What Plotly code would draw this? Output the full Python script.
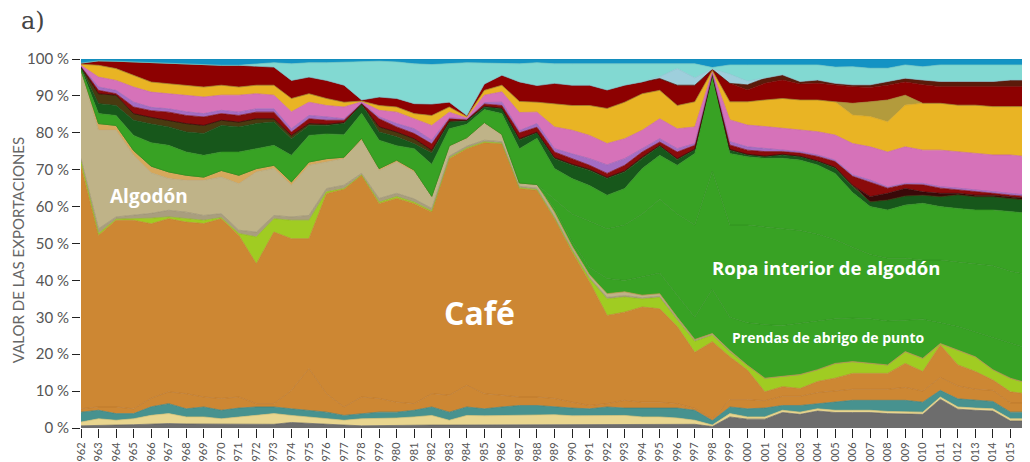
import plotly.graph_objects as go

years = list(range(1962, 2017))

# shares of export value (%), bottom to top of the stack
gris = [0.6,0.8,0.8,0.9,1.0,1.2,1.1,1.1,1.0,1.2,
        1.0,1.0,1.5,1.2,1.0,0.8,0.6,0.7,0.7,0.7,
        0.8,0.8,0.8,0.8,0.9,0.9,0.9,1.0,1.0,1.0,
        1.0,1.0,1.0,1.0,1.0,1.0,0.4,3.0,2.4,2.4,
        4.2,3.7,4.6,4.2,4.2,4.2,3.9,3.7,3.7,7.8,
        5.1,4.8,4.6,1.9,1.9]
caqui = [1.0,1.7,1.3,1.6,2.4,2.7,1.9,1.9,1.5,1.8,
         2.4,2.9,1.9,1.8,1.5,1.3,1.9,1.8,2.0,2.3,
         2.6,1.3,2.6,2.5,2.5,2.5,2.5,2.6,2.3,2.3,
         2.4,2.4,2.0,2.0,1.7,1.1,0.4,0.9,0.6,0.6,
         0.6,0.6,0.6,0.6,0.6,0.6,0.6,0.6,0.6,0.6,
         0.6,0.6,0.6,0.6,0.6]
turquesa = [2.7,2.3,1.8,1.4,2.3,2.7,2.2,2.7,2.3,2.4,
            2.3,1.8,1.8,1.8,1.8,1.3,1.4,1.8,1.6,1.8,
            2.3,2.2,2.3,1.9,2.3,2.7,2.7,2.1,2.1,1.9,
            2.3,2.0,2.4,2.2,2.7,2.7,1.2,1.8,2.2,2.4,
            1.3,1.8,1.4,2.2,2.7,2.7,3.0,3.2,2.7,1.8,
            2.2,2.1,2.0,1.8,1.8]
azucar = [0.9,0.9,1.8,1.3,2.3,3.2,4.1,2.7,3.2,3.0,
          0.9,0.9,5.0,11.3,5.0,2.3,4.5,3.7,2.7,1.8,
          3.6,4.6,5.9,4.1,3.2,2.3,2.3,2.3,1.6,0.9,
          0.9,2.1,1.6,1.8,1.2,0.5,0.5,2.0,2.5,2.0,
          2.5,2.5,3.0,3.0,3.0,3.0,3.0,3.5,3.0,3.5,
          3.5,3.0,3.0,2.5,2.5]
cafe = [65.8,46.5,50.6,51.1,46.9,46.9,46.5,47.0,48.7,43.8,
        37.9,46.5,41.1,35.2,54.2,59.0,60.1,52.8,55.2,54.2,
        49.2,64.1,64.1,68.0,68.1,56.5,56.0,48.7,40.7,33.5,
        23.9,23.9,25.8,25.3,20.9,15.2,20.9,11.6,8.0,2.4,
        2.6,2.1,3.0,3.5,4.3,4.3,4.3,6.5,5.3,8.8,
        5.7,4.8,2.8,3.0,2.4]
lima = [1.5,0.5,0.3,0.4,1.5,0.5,0.9,0.9,0.3,0.5,
        7.3,3.6,5.0,5.0,0.5,0.2,0.1,0.4,0.5,0.4,
        0.3,0.2,0.2,0.2,0.2,0.2,0.2,0.3,0.5,0.9,
        4.5,4.1,2.2,3.1,1.8,3.0,1.8,1.4,1.3,3.7,
        2.8,3.8,3.2,4.0,3.2,2.7,2.3,3.2,3.6,0.4,
        4.0,4.0,2.8,3.7,2.9]
beige_osc = [0.5,1.3,0.6,0.9,1.3,1.8,1.8,1.3,1.1,0.9,
             1.3,0.9,0.9,1.3,0.9,0.9,0.4,1.0,0.9,0.9,
             0.7,0.5,0.5,0.5,0.4,0.4,0.4,0.3,0.3,0.3,
             0.4,0.4,0.3,0.3,0.3,0.3,0.2,0,0,0,
             0,0,0,0,0,0,0,0,0,0,
             0,0,0,0,0]
algodon = [23.5,26.7,23.5,16.3,10.9,8.6,8.6,9.5,9.9,12.6,
           16.3,12.7,8.6,13.6,7.2,7.2,9.0,7.6,8.5,7.3,
           3.0,2.5,2.0,4.5,1.7,0.7,0.8,1.0,0.6,0.6,
           1.0,1.0,0.7,0.7,0.4,0.2,0.2,0.3,0,0,
           0,0,0,0,0,0,0,0,0,0,
           0,0,0,0,0]
ocre = [0.5,1.8,1.3,1.3,1.8,1.8,1.4,0.9,1.8,2.3,
        0.9,0.9,0.9,0.9,0.9,0.4,0.5,0.5,0.5,0.5,
        0.3,0.3,0.3,0.3,0.3,0.2,0.2,0.2,0.2,0.1,
        0,0,0,0,0,0,0,0,0,0,
        0,0,0,0,0,0,0,0,0,0,
        0,0,0,0,0]
prendas_abrigo = [0]*27 + [1.0,1.2,2.0,
                  4.1,3.1,5.0,5.6,6.0,6.0,12.0,9.0,11.5,14.5,
                  13.8,14.0,13.2,12.1,11.8,12.1,11.9,8.5,10.6,5.6,
                  6.4,6.7,8.7,9.5,9.4]
ropa_interior = [0]*27 + [2.5,7.5,12.5,
                 13.5,15.0,17.0,20.0,22.0,25.0,32.0,25.0,26.5,26.5,
                 26.2,25.0,23.5,21.4,19.2,17.4,17.0,16.8,16.0,17.0,
                 17.5,18.5,19.5,19.5,20.0]
otros_verdes = [0.4,2.7,2.7,4.1,6.3,7.2,6.3,5.9,5.0,6.3,
                5.4,5.4,7.2,7.2,6.7,6.1,6.8,7.7,3.9,5.8,
                8.7,4.6,3.6,3.5,5.6,9.3,12.5,8.3,9.6,9.7,
                9.1,9.9,12.3,11.9,13.2,19.4,26.0,19.4,18.5,18.6,
                19.1,19.1,18.8,18.0,14.8,13.0,13.1,14.4,15.4,14.5,
                14.5,14.6,15.1,16.1,16.7]
verde_osc = [0.3,2.7,2.7,4.1,5.0,5.0,5.4,5.9,7.2,6.8,
             6.8,6.3,4.5,2.7,2.3,3.0,2.5,2.2,2.4,1.3,
             3.0,1.8,0.9,0.7,1.3,2.3,1.5,2.7,3.6,4.1,
             4.5,4.5,2.7,2.5,1.5,1.0,0.2,0.9,0.5,0.4,
             0.9,0.9,0.9,1.4,1.6,1.3,2.7,2.5,2.2,2.7,
             3.7,3.6,3.6,3.6,3.6]
marron = [0.2,2.7,2.8,1.8,1.8,1.8,2.3,2.2,1.4,1.3,
          1.3,0.9,0.9,0.5,0.3,0.3,0.1,1.4,1.3,1.4,
          0.8,0.3,0.2,0.2,0.2,0.4,0.2,0.3,0.3,0.3,
          0.3,0.3,0.4,0.2,0.3,0.2,0.1,0.2,0.2,0.2,
          0.2,0.2,0.2,0.3,0.4,0,0,0,0,0,
          0,0,0,0,0]
granate_osc = [0]*45 + [1.4,1.8,2.0,0.9,0.9,0.4,0.4,0.4,0.4,0.4]
rojo1 = [0.1,0.9,0.4,1.8,1.8,2.2,2.2,2.3,1.8,1.8,
         1.8,1.8,0.9,1.3,1.1,0.6,0.1,2.2,1.4,1.4,
         1.7,0.6,0.2,0.6,0.7,1.6,1.3,1.5,1.5,1.1,
         1.1,1.5,1.4,0.9,1.8,1.0,0.2,1.2,1.1,1.2,
         0.7,0.8,1.2,1.5,2.4,4.0,1.4,1.1,1.9,1.4,
         1.0,1.0,0.5,0.5,0.5]
morado = [0.1,0.9,0.9,1.3,0.9,0.9,1.0,0.9,0.9,0.9,
          0.9,0.9,0.9,0.9,0.9,0.4,0.1,0.5,0.9,1.3,
          1.0,0.3,0.1,0.4,0.9,0.6,1.0,0.9,1.3,1.8,
          2.3,1.8,0.9,0.9,0.9,0.5,0.1,0.9,0.9,0.9,
          0.4,0.4,0.4,0.4,0.4,0.5,0.3,0.3,0.4,0.4,
          0.4,0.4,0.4,0.4,0.4]
rosa = [0.2,2.7,2.7,4.1,4.1,4.1,4.5,4.5,4.1,4.6,
        4.1,3.7,4.6,3.6,3.1,3.2,0.3,1.8,3.1,2.7,
        4.0,1.5,0.3,2.0,2.8,4.9,3.1,5.9,6.4,6.3,
        5.8,5.4,5.0,5.4,5.4,4.5,0.3,5.9,5.9,5.9,
        5.9,5.9,6.3,6.8,8.5,9.0,9.5,9.9,9.0,9.9,
        9.9,9.9,10.0,10.5,10.4]
oro = [0.3,3.2,3.2,3.2,2.7,2.7,2.7,2.7,2.7,2.2,
       2.3,2.7,3.6,2.3,1.9,1.3,0.2,1.3,1.4,1.4,
       2.7,1.4,0.4,1.3,1.8,3.0,2.7,6.3,6.7,8.1,
       9.5,9.9,9.9,7.7,6.3,6.8,0.4,4.9,6.3,7.2,
       8.1,8.1,8.6,9.0,7.7,8.2,8.2,11.3,12.7,12.7,
       12.6,13.1,13.1,13.1,13.6]
oliva = [0]*44 + [3.2,4.0,5.9,2.7,0,0,0,0,0,0,0]
rojo2 = [0.3,1.2,2.0,3.6,5.2,5.4,5.8,6.1,5.4,5.9,
         5.2,4.9,4.9,4.5,4.9,4.6,0.3,2.3,2.3,2.7,
         3.1,1.3,0.3,1.7,2.7,5.3,4.5,5.5,5.5,5.5,
         5.0,4.6,3.2,3.2,5.5,4.5,0.3,5.0,3.2,4.5,
         5.0,4.3,4.5,4.5,4.5,3.9,4.0,3.6,5.0,4.5,
         5.0,5.0,5.4,5.4,5.4]
granate = [0]*38 + [1.4,1.4,1.4,0.7,0.9,0.5,0.5,0.7,1.0,1.0,
                    1.3,1.4,1.4,1.4,1.4,1.8,1.8]
celeste = [0]*33 + [0.5,4.5,2.0,0.1,2.5,1.0] + [0]*16
cian = [0,0,0,0,0,0,0,0,0,0,
        0.5,1.2,4.5,3.9,4.8,6.3,10.3,9.7,9.9,10.8,
        10.7,10.4,14.3,5.7,3.1,4.9,6.2,5.3,5.8,5.8,
        7.1,5.8,4.9,3.5,1.3,3.8,0.4,2.5,4.4,3.6,
        2.7,4.5,4.1,4.4,4.9,4.5,3.6,3.6,3.6,4.5,
        4.5,4.5,4.5,4.1,4.1]
azul = [1.1,0.5,0.6,0.8,1.0,1.3,1.3,1.5,1.7,1.7,
        1.4,1.0,1.3,1.0,1.0,0.8,0.8,0.6,0.8,1.3,
        1.5,1.3,1.0,1.1,1.3,1.3,1.0,1.3,1.3,1.3,
        1.3,1.3,1.3,1.3,1.3,1.3,2.3,1.6,1.6,1.6,
        1.6,1.6,1.6,2.2,2.1,2.5,2.5,1.6,2.1,1.6,
        1.6,1.6,1.6,1.6,1.6]

y_ticks = list(range(0, 101, 10))
y_labels = [f"{v} %" for v in y_ticks]

layers = [
    ("Otros", gris, "#6d6d6d", "#5e5e5e"),
    ("Caqui", caqui, "#e9d68f", "#d8c270"),
    ("Turquesa", turquesa, "#47928f", "#3c807d"),
    ("Azúcar", azucar, "#cd8733", "#b8742a"),
    ("Café", cafe, "#cd8733", "#c07c2e"),
    ("Prendas varias", lima, "#a0cc22", "#8db81a"),
    ("Semillas", beige_osc, "#a99e7e", "#9a8f70"),
    ("Algodón", algodon, "#bfb388", "#b0a47a"),
    ("Ocre", ocre, "#d6a85c", "#c4964c"),
    ("Prendas de abrigo de punto", prendas_abrigo, "#38a224", "#2f8e1e"),
    ("Ropa interior de algodón", ropa_interior, "#38a224", "#2f8e1e"),
    ("Otros textiles", otros_verdes, "#38a224", "#2f8e1e"),
    ("Verde oscuro", verde_osc, "#17571b", "#124a16"),
    ("Marrón", marron, "#4a3a10", "#3d300c"),
    ("Granate oscuro", granate_osc, "#3a0909", "#300606"),
    ("Rojo 1", rojo1, "#8b0b0b", "#7a0808"),
    ("Morado", morado, "#a46dc3", "#9460b2"),
    ("Rosa", rosa, "#d672b9", "#c563a8"),
    ("Oro", oro, "#e9b424", "#d6a21c"),
    ("Oliva", oliva, "#b39b3c", "#a08a30"),
    ("Rojo 2", rojo2, "#8d0101", "#7c0000"),
    ("Granate", granate, "#5b1a0a", "#4d1407"),
    ("Celeste", celeste, "#9ecfdc", "#8cc0ce"),
    ("Cian", cian, "#82d9d2", "#72c8c1"),
    ("Azul", azul, "#1493c4", "#1285b3"),
]

fig = go.Figure()
for i, (name, vals, fill, edge) in enumerate(layers):
    kw = dict(groupnorm="percent") if i == 0 else {}
    fig.add_trace(go.Scatter(
        x=years, y=vals, name=name, mode="lines", stackgroup="exp",
        line=dict(width=0.7, color=edge), fillcolor=fill, hoverinfo="x+name",
        **kw))

fig.update_layout(
    width=1030, height=462,
    margin=dict(l=73, r=10, t=51, b=42),
    paper_bgcolor="white", plot_bgcolor="white",
    showlegend=False,
    xaxis=dict(
        range=[1962, 2016], tickmode="array", tickvals=years,
        ticktext=[str(y) for y in years], tickangle=-90,
        ticks="outside", ticklen=9, tickcolor="#222222", tickwidth=1,
        tickfont=dict(family="Lato, sans-serif", size=11, color="#555555"),
        showgrid=False, zeroline=False, showline=False, automargin=False,
    ),
    yaxis=dict(
        range=[0, 100], tickmode="array", tickvals=y_ticks, ticktext=y_labels,
        ticks="outside", ticklen=8, tickcolor="#222222",
        tickwidth=1, tickfont=dict(family="Lato, sans-serif", size=15, color="#555555"),
        showgrid=False, zeroline=False, showline=False, automargin=False,
    ),
    annotations=[
        dict(text="a)", xref="paper", yref="paper", x=-0.0507, y=1.0, yshift=38,
             xanchor="center", yanchor="middle", showarrow=False,
             font=dict(family="'DejaVu Serif', 'Liberation Serif', serif", size=24, color="#444444")),
        dict(text="VALOR DE LAS EXPORTACIONES", xref="paper", yref="paper",
             x=-0.0665, y=0.482, textangle=-90, showarrow=False,
             xanchor="center", yanchor="middle",
             font=dict(family="Lato, sans-serif", size=15, color="#666666")),
        dict(text="<b>Algodón</b>", x=1965.9, y=63, showarrow=False,
             font=dict(family="'Open Sans', sans-serif", size=19, color="white")),
        dict(text="<b>Café</b>", x=1984.75, y=31.4, showarrow=False,
             font=dict(family="'Open Sans', sans-serif", size=32, color="white")),
        dict(text="<b>Ropa interior de algodón</b>", x=2004.5, y=43.4, showarrow=False,
             font=dict(family="'Open Sans', sans-serif", size=18.5, color="white")),
        dict(text="<b>Prendas de abrigo de punto</b>", x=2004.6, y=24.4, showarrow=False,
             font=dict(family="'Open Sans', sans-serif", size=14, color="white")),
    ],
)

fig.write_html("out.html")
